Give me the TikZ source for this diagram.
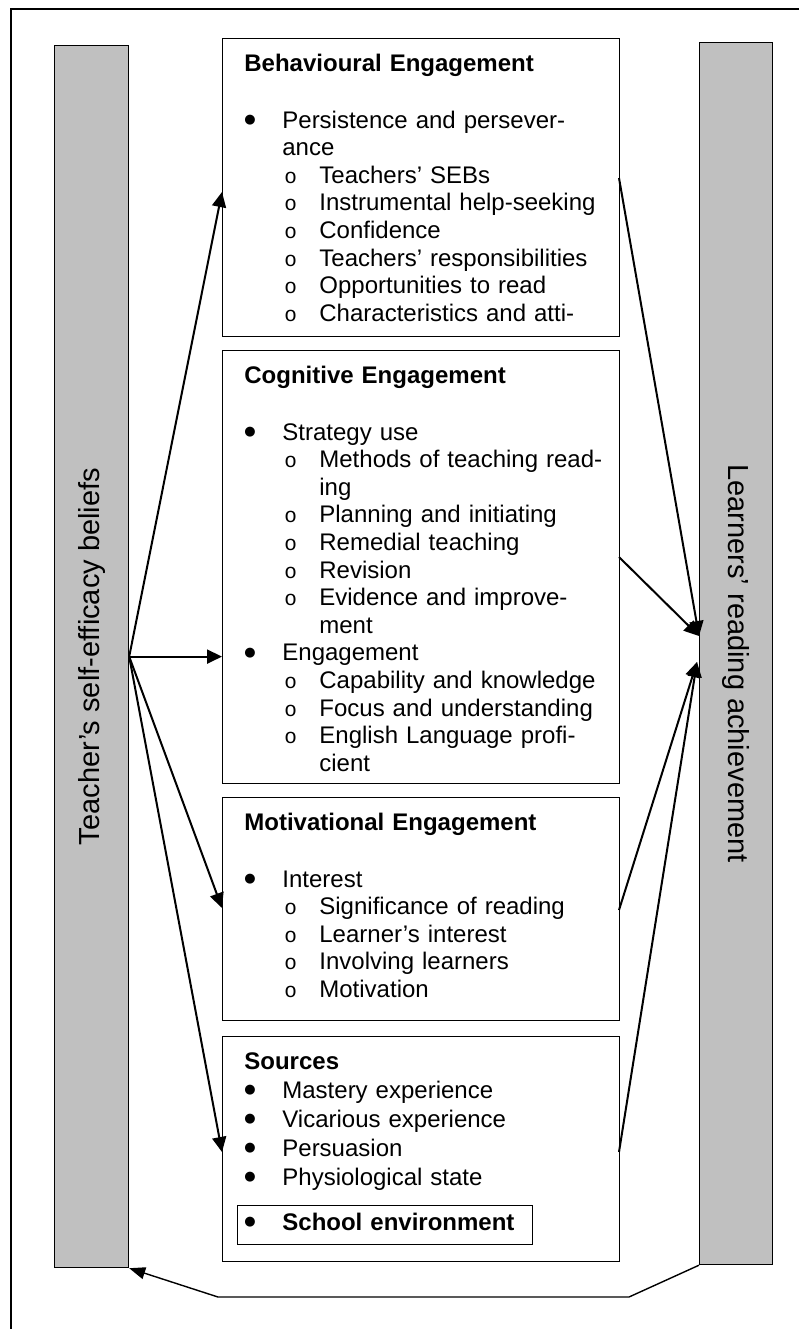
\documentclass[tikz,border=0pt]{standalone}
\usepackage{fontspec}
\setmainfont{Liberation Sans}
\newfontfamily\monofont{Liberation Mono}
\newfontfamily\symfont{DejaVu Sans}
\usepackage{xcolor}
\usetikzlibrary{arrows.meta}

\definecolor{barGray}{RGB}{192,192,192}

% list lines inside the boxes
\newcommand{\bdot}{\raisebox{2.4pt}{\fontsize{6.5pt}{6.5pt}\symfont ●}}
\newcommand{\bitem}[1]{\makebox[19pt][l]{\bdot}#1\par}
\newcommand{\bcont}[1]{\hspace*{19pt}#1\par}
\newcommand{\sitem}[1]{\hspace*{20pt}\makebox[17.5pt][l]{\fontsize{10.5pt}{10pt}\monofont o}#1\par}
\newcommand{\scont}[1]{\hspace*{37.5pt}#1\par}

\begin{document}
\begin{tikzpicture}[x=0.5pt, y=-0.5pt,
    frame/.style={line width=1.3pt},
    bar/.style={draw, line width=0.6pt, fill=barGray, inner sep=0, anchor=north west},
    box/.style={draw, line width=0.6pt, inner sep=0, anchor=north west},
    txt/.style={anchor=base west, inner sep=0, text width=186pt, align=left,
        font=\fontsize{12pt}{13.8pt}\selectfont},
    barlbl/.style={inner sep=0, font=\fontsize{14.5pt}{16pt}\selectfont},
    arr/.style={line width=1pt, -{Triangle[length=7.5pt,width=7pt]}},
    back/.style={line width=0.7pt, -{Triangle[length=8pt,width=6pt]}}]
        \useasboundingbox (0,0) rectangle (799,1329);
        \draw[frame] (799,9) -- (11,9) -- (11,1329);

        % the two bars
        \node[bar, minimum width=37pt, minimum height=611pt] (teach) at (54,45) {};
        \node[barlbl, rotate=90] (teachlbl) at (teach.center) {Teacher's self-efficacy beliefs};
        \node[bar, minimum width=36.5pt, minimum height=611pt] (learn) at (699,42) {};
        \node[barlbl, rotate=-90] (learnlbl) at ([yshift=-5pt]learn.center) {Learners' reading achievement};

        % the four boxes
        \node[box, minimum width=198.5pt, minimum height=149pt] (beh) at (222,38) {};
        \node[txt] (behtxt) at (244,71) {\textbf{Behavioural Engagement}\par\vspace{14.7pt}
            \bitem{Persistence and persever-}
            \bcont{ance}
            \sitem{Teachers' SEBs}
            \sitem{Instrumental help-seeking}
            \sitem{Confidence}
            \sitem{Teachers' responsibilities}
            \sitem{Opportunities to read}
            \sitem{Characteristics and atti-}};

        \node[box, minimum width=198.5pt, minimum height=216.5pt] (cog) at (222,350) {};
        \node[txt] (cogtxt) at (244,383) {\textbf{Cognitive Engagement}\par\vspace{14.7pt}
            \bitem{Strategy use}
            \sitem{Methods of teaching read-}
            \scont{ing}
            \sitem{Planning and initiating}
            \sitem{Remedial teaching}
            \sitem{Revision}
            \sitem{Evidence and improve-}
            \scont{ment}
            \bitem{Engagement}
            \sitem{Capability and knowledge}
            \sitem{Focus and understanding}
            \sitem{English Language profi-}
            \scont{cient}};

        \node[box, minimum width=198.5pt, minimum height=111.5pt] (mot) at (222,797) {};
        \node[txt] (mottxt) at (244,830) {\textbf{Motivational Engagement}\par\vspace{14.7pt}
            \bitem{Interest}
            \sitem{Significance of reading}
            \sitem{Learner's interest}
            \sitem{Involving learners}
            \sitem{Motivation}};

        \node[box, minimum width=198.5pt, minimum height=112.5pt] (src) at (222,1036) {};
        \node[txt, font=\fontsize{12pt}{14.5pt}\selectfont] (srctxt) at (244,1069) {\textbf{Sources}\par
            \bitem{Mastery experience}
            \bitem{Vicarious experience}
            \bitem{Persuasion}
            \bitem{Physiological state}};
        \node[box, minimum width=147.5pt, minimum height=19.5pt] (schl) at (237,1205) {};
        \node[txt] (schltxt) at (244,1230) {\bitem{\textbf{School environment}}};

        % end points on the boxes and on the right bar
        \coordinate (behL) at (222,192);
        \coordinate (motL) at (222,908);
        \coordinate (srcL) at (222,1152);
        \coordinate (behR) at (619,178);
        \coordinate (cogR) at (619,557);
        \coordinate (motR) at (619,910);
        \coordinate (srcR) at (619,1152);
        \coordinate (hubA) at (699,636);
        \coordinate (hubB) at (697,662);

        \draw[arr] (teach.east) -- (behL);
        \draw[arr] (teach.east) -- (teach.east -| cog.west);
        \draw[arr] (teach.east) -- (motL);
        \draw[arr] (teach.east) -- (srcL);

        \draw[arr] (behR) -- (hubA);
        \draw[arr] (cogR) -- (hubA);
        \draw[arr] (motR) -- (hubB);
        \draw[arr] (srcR) -- (hubB);

        % feedback line under the boxes
        \coordinate (fbA) at (629,1297);
        \coordinate (fbB) at (218,1297);
        \draw[back] (learn.south west) -- (fbA) -- (fbB) -- (teach.south east);
\end{tikzpicture}
\end{document}
